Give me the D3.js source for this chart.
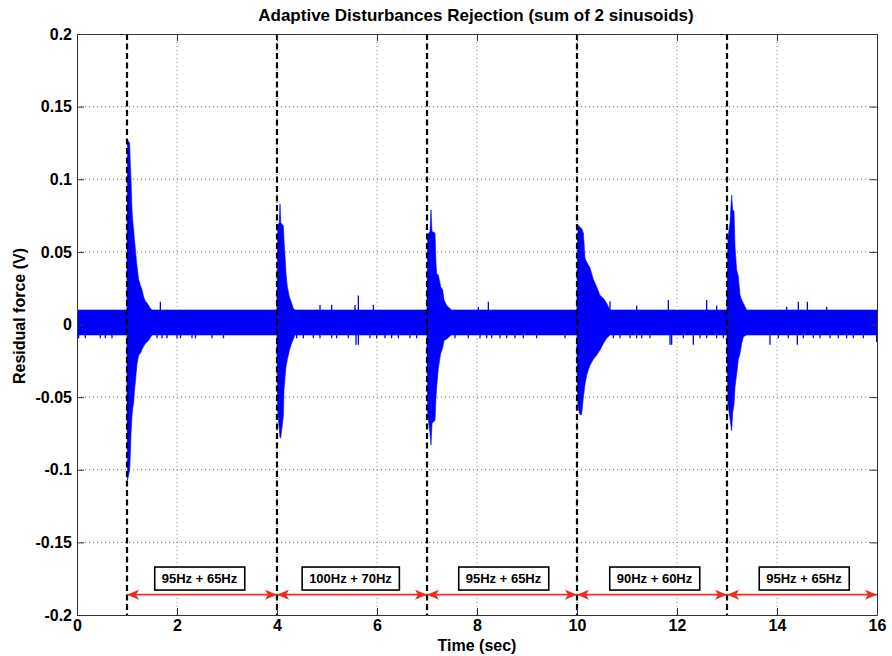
<!DOCTYPE html>
<html>
<head>
<meta charset="utf-8">
<script src="https://cdn.jsdelivr.net/npm/d3@7"></script>
<style>
  html, body { margin: 0; padding: 0; background: #fff; }
  text { font-family: "Liberation Sans", Arial, Helvetica, sans-serif; font-weight: bold; }
</style>
</head>
<body>
<svg id="chart" width="892" height="656"></svg>
<script>
// ---------- data ----------
const xTicks = [0, 2, 4, 6, 8, 10, 12, 14, 16];
const xTickLabels = ["0", "2", "4", "6", "8", "10", "12", "14", "16"];
const yTicks = [-0.2, -0.15, -0.1, -0.05, 0, 0.05, 0.1, 0.15, 0.2];
const yTickLabels = ["-0.2", "-0.15", "-0.1", "-0.05", "0", "0.05", "0.1", "0.15", "0.2"];

const changeTimes = [1, 4, 7, 10, 13];
const segmentStarts = [1, 4, 7, 10, 13];
const segmentEnds = [4, 7, 10, 13, 16];
const bandLabels = ["95Hz + 65Hz", "100Hz + 70Hz", "95Hz + 65Hz", "90Hz + 60Hz", "95Hz + 65Hz"];
const labelTimes = [2.45, 5.47, 8.53, 11.55, 14.54];
const arrowLevel = -0.186;
const labelLevel = -0.1749;

// envelope of the residual force signal
const envTime = [
  0, 0.998,
  1.000, 1.010, 1.053, 1.067, 1.080, 1.100, 1.113, 1.133, 1.147, 1.167, 1.187, 1.200, 1.233, 1.267, 1.300, 1.333, 1.367, 1.400, 1.433, 1.467, 1.500,
  3.998,
  4.000, 4.015, 4.045, 4.060, 4.075, 4.127, 4.140, 4.160, 4.180, 4.207, 4.247, 4.280, 4.327, 4.360,
  6.998,
  7.000, 7.015, 7.060, 7.080, 7.100, 7.160, 7.180, 7.193, 7.227, 7.273, 7.313, 7.340, 7.393, 7.460, 7.493,
  9.998,
  10.000, 10.010, 10.027, 10.060, 10.093, 10.127, 10.160, 10.193, 10.227, 10.260, 10.293, 10.327, 10.393, 10.460, 10.527, 10.593, 10.660,
  12.998,
  13.000, 13.020, 13.060, 13.093, 13.113, 13.140, 13.160, 13.193, 13.227, 13.260, 13.293, 13.327, 13.393,
  16
];
const envUpper = [
  0.0100, 0.0100,
  0.060, 0.127, 0.125, 0.110, 0.100, 0.079, 0.072, 0.065, 0.059, 0.052, 0.044, 0.040, 0.031, 0.027, 0.024, 0.019, 0.016, 0.015, 0.013, 0.011, 0.0100,
  0.0100,
  0.020, 0.068, 0.070, 0.083, 0.070, 0.068, 0.058, 0.047, 0.035, 0.026, 0.019, 0.016, 0.011, 0.0100,
  0.0100,
  0.020, 0.062, 0.064, 0.079, 0.064, 0.063, 0.042, 0.035, 0.034, 0.026, 0.024, 0.017, 0.013, 0.011, 0.0100,
  0.0100,
  0.020, 0.060, 0.0685, 0.067, 0.066, 0.063, 0.0455, 0.043, 0.041, 0.039, 0.035, 0.031, 0.026, 0.020, 0.018, 0.0146, 0.0100,
  0.0100,
  0.020, 0.060, 0.070, 0.089, 0.079, 0.078, 0.0535, 0.0375, 0.033, 0.0203, 0.017, 0.0146, 0.0100,
  0.0100
];
const envLower = [
  -0.0072, -0.0072,
  -0.060, -0.107, -0.100, -0.089, -0.075, -0.063, -0.058, -0.054, -0.046, -0.040, -0.032, -0.027, -0.021, -0.020, -0.017, -0.015, -0.013, -0.012, -0.011, -0.009, -0.0072,
  -0.0072,
  -0.020, -0.060, -0.072, -0.078, -0.078, -0.063, -0.045, -0.036, -0.029, -0.024, -0.018, -0.014, -0.010, -0.0072,
  -0.0072,
  -0.020, -0.062, -0.075, -0.083, -0.068, -0.066, -0.050, -0.043, -0.030, -0.020, -0.016, -0.011, -0.010, -0.008, -0.0072,
  -0.0072,
  -0.020, -0.050, -0.058, -0.062, -0.062, -0.050, -0.041, -0.035, -0.031, -0.028, -0.026, -0.024, -0.021, -0.0175, -0.013, -0.0095, -0.0072,
  -0.0072,
  -0.020, -0.055, -0.065, -0.073, -0.061, -0.055, -0.043, -0.034, -0.024, -0.020, -0.013, -0.0084, -0.0072,
  -0.0072
];

// isolated excursions of the signal outside its noise band
const spikeTime = [
  0.033, 0.167, 0.467, 0.567, 0.700, 1.600, 1.700, 1.800, 2.000, 2.070, 2.300, 2.370, 2.700, 2.930,
  4.393, 4.527, 4.727, 4.860, 5.093, 5.193, 5.427, 5.580, 5.627, 5.860, 5.993, 6.160, 6.293, 6.427, 6.660, 6.793,
  7.560, 7.827, 8.060, 8.193, 8.293, 8.460, 8.593, 8.760, 8.927, 9.193, 9.760,
  10.727, 10.860, 11.060, 11.193, 11.293, 11.460, 11.860, 11.893, 12.127, 12.327, 12.460, 12.593, 12.793, 12.927,
  13.860, 14.027, 14.227, 14.407, 14.527, 14.727, 14.860, 15.060, 15.227, 15.393, 15.527, 15.727, 15.993,
  1.667, 4.860, 5.093, 5.560, 5.627, 5.927, 8.027, 8.227, 10.660, 11.193, 11.827, 12.593, 12.793, 14.193, 14.427, 14.607, 14.993
];
const spikeValue = [
  -0.0095, -0.0095, -0.0095, -0.0095, -0.0095, -0.0095, -0.0095, -0.0095, -0.0095, -0.0095, -0.0095, -0.0095, -0.0095, -0.0095,
  -0.0095, -0.0095, -0.0095, -0.0095, -0.0095, -0.0095, -0.0095, -0.0140, -0.0140, -0.0095, -0.0095, -0.0095, -0.0095, -0.0095, -0.0095, -0.0095,
  -0.0095, -0.0095, -0.0095, -0.0095, -0.0095, -0.0095, -0.0095, -0.0095, -0.0095, -0.0095, -0.0095,
  -0.0095, -0.0095, -0.0095, -0.0095, -0.0095, -0.0095, -0.0140, -0.0140, -0.0095, -0.0140, -0.0095, -0.0095, -0.0095, -0.0095,
  -0.0140, -0.0095, -0.0095, -0.0140, -0.0095, -0.0095, -0.0095, -0.0095, -0.0095, -0.0095, -0.0095, -0.0095, -0.0120,
  0.0157, 0.0134, 0.0134, 0.0134, 0.0200, 0.0134, 0.0120, 0.0157, 0.0160, 0.0130, 0.0168, 0.0168, 0.0130, 0.0120, 0.0157, 0.0157, 0.0120
];

// ---------- layout ----------
const svg = d3.select("#chart");
const W = 892, H = 656;
const mLeft = 77, mRight = 877, mTop = 34, mBottom = 615;

svg.append("rect").attr("width", W).attr("height", H).attr("fill", "#fff");

const x = d3.scaleLinear().domain([0, 16]).range([mLeft, mRight]);
const y = d3.scaleLinear().domain([-0.2, 0.2]).range([mBottom, mTop]);

const defs = svg.append("defs");
defs.append("clipPath").attr("id", "plotclip")
  .append("rect").attr("x", mLeft).attr("y", mTop).attr("width", mRight - mLeft).attr("height", mBottom - mTop);

// grid
const grid = svg.append("g").attr("class", "grid");
grid.selectAll("line.vg").data(xTicks.slice(1, -1)).join("line")
  .attr("class", "vg")
  .attr("x1", d => x(d)).attr("x2", d => x(d))
  .attr("y1", mTop).attr("y2", mBottom)
  .attr("stroke", "#8a8a8a").attr("stroke-width", 1).attr("stroke-dasharray", "1,3");
grid.selectAll("line.hg").data(yTicks.slice(1, -1)).join("line")
  .attr("class", "hg")
  .attr("y1", d => y(d)).attr("y2", d => y(d))
  .attr("x1", mLeft).attr("x2", mRight)
  .attr("stroke", "#6a6a6a").attr("stroke-width", 1).attr("stroke-dasharray", "1,3");

// signal
const plot = svg.append("g").attr("clip-path", "url(#plotclip)");
const env = envTime.map((t, i) => ({ t, hi: envUpper[i], lo: envLower[i] }));
const area = d3.area()
  .x(d => x(d.t))
  .y0(d => y(d.lo))
  .y1(d => y(d.hi))
  .curve(d3.curveLinear);
plot.append("path").datum(env).attr("d", area).attr("fill", "#0000ff").attr("stroke", "#0000ff").attr("stroke-width", 0.6);

const spikes = spikeTime.map((t, i) => ({ t, v: spikeValue[i] }));
plot.selectAll("line.spike").data(spikes).join("line")
  .attr("class", "spike")
  .attr("x1", d => x(d.t)).attr("x2", d => x(d.t))
  .attr("y1", y(0)).attr("y2", d => y(d.v))
  .attr("stroke", "#0000ff").attr("stroke-width", 1.3);

// dashed change lines
svg.selectAll("line.change").data(changeTimes).join("line")
  .attr("class", "change")
  .attr("x1", d => x(d)).attr("x2", d => x(d))
  .attr("y1", mTop).attr("y2", mBottom)
  .attr("stroke", "#000").attr("stroke-width", 2.2).attr("stroke-dasharray", "6,3.5");

// axes box + ticks (inward on all four sides)
const axisStyle = g => {
  g.select(".domain").attr("stroke", "#333").attr("stroke-width", 1);
  g.selectAll(".tick line").attr("stroke", "#333").attr("stroke-width", 1);
  g.selectAll(".tick text").attr("font-size", 16).attr("font-weight", "bold").attr("fill", "#000")
    .attr("font-family", "'Liberation Sans', Arial, Helvetica, sans-serif");
};
svg.append("g").attr("transform", `translate(0,${mBottom})`)
  .call(d3.axisBottom(x).tickValues(xTicks).tickFormat((d, i) => xTickLabels[i]).tickSizeInner(-7).tickSizeOuter(0).tickPadding(5))
  .call(axisStyle);
svg.append("g").attr("transform", `translate(0,${mTop})`)
  .call(d3.axisTop(x).tickValues(xTicks).tickFormat("").tickSizeInner(-7).tickSizeOuter(0))
  .call(axisStyle);
svg.append("g").attr("transform", `translate(${mLeft},0)`)
  .call(d3.axisLeft(y).tickValues(yTicks).tickFormat((d, i) => yTickLabels[i]).tickSizeInner(-7).tickSizeOuter(0).tickPadding(5))
  .call(axisStyle);
svg.append("g").attr("transform", `translate(${mRight},0)`)
  .call(d3.axisRight(y).tickValues(yTicks).tickFormat("").tickSizeInner(-7).tickSizeOuter(0))
  .call(axisStyle);

// red arrows
const red = "#e6321c";
defs.append("marker").attr("id", "ahEnd").attr("viewBox", "0 0 12 10")
  .attr("refX", 12).attr("refY", 5).attr("markerWidth", 12).attr("markerHeight", 10)
  .attr("markerUnits", "userSpaceOnUse").attr("orient", "auto")
  .append("path").attr("d", "M0,0 L12,5 L0,10 L3,5 Z").attr("fill", red);
defs.append("marker").attr("id", "ahStart").attr("viewBox", "0 0 12 10")
  .attr("refX", 0).attr("refY", 5).attr("markerWidth", 12).attr("markerHeight", 10)
  .attr("markerUnits", "userSpaceOnUse").attr("orient", "auto")
  .append("path").attr("d", "M12,0 L0,5 L12,10 L9,5 Z").attr("fill", red);

const segs = segmentStarts.map((s, i) => ({ s, e: segmentEnds[i] }));
svg.selectAll("line.arrow").data(segs).join("line")
  .attr("class", "arrow")
  .attr("x1", d => x(d.s)).attr("x2", d => x(d.e))
  .attr("y1", y(arrowLevel)).attr("y2", y(arrowLevel))
  .attr("stroke", red).attr("stroke-width", 1.6)
  .attr("marker-start", "url(#ahStart)").attr("marker-end", "url(#ahEnd)");

// label boxes
const lab = svg.selectAll("g.lab").data(bandLabels).join("g").attr("class", "lab")
  .attr("transform", (d, i) => `translate(${x(labelTimes[i])},${y(labelLevel)})`);
lab.append("text").attr("text-anchor", "middle").attr("dy", "0.36em")
  .attr("font-size", 13).attr("fill", "#000").text(d => d);
lab.each(function () {
  const g = d3.select(this);
  const bb = g.select("text").node().getBBox();
  g.insert("rect", "text")
    .attr("x", bb.x - 7).attr("y", -11.5)
    .attr("width", bb.width + 14).attr("height", 23)
    .attr("fill", "#fff").attr("stroke", "#000").attr("stroke-width", 1.6);
});

// titles
svg.append("text").attr("x", 476).attr("y", 21).attr("text-anchor", "middle")
  .attr("font-size", 17).attr("fill", "#000")
  .text("Adaptive Disturbances Rejection (sum of 2 sinusoids)");
svg.append("text").attr("x", 477).attr("y", 651).attr("text-anchor", "middle")
  .attr("font-size", 16).attr("fill", "#000").text("Time (sec)");
svg.append("text").attr("transform", "translate(19,316) rotate(-90)")
  .attr("text-anchor", "middle").attr("dy", "0.36em")
  .attr("font-size", 16).attr("fill", "#000").text("Residual force (V)");
</script>
</body>
</html>
